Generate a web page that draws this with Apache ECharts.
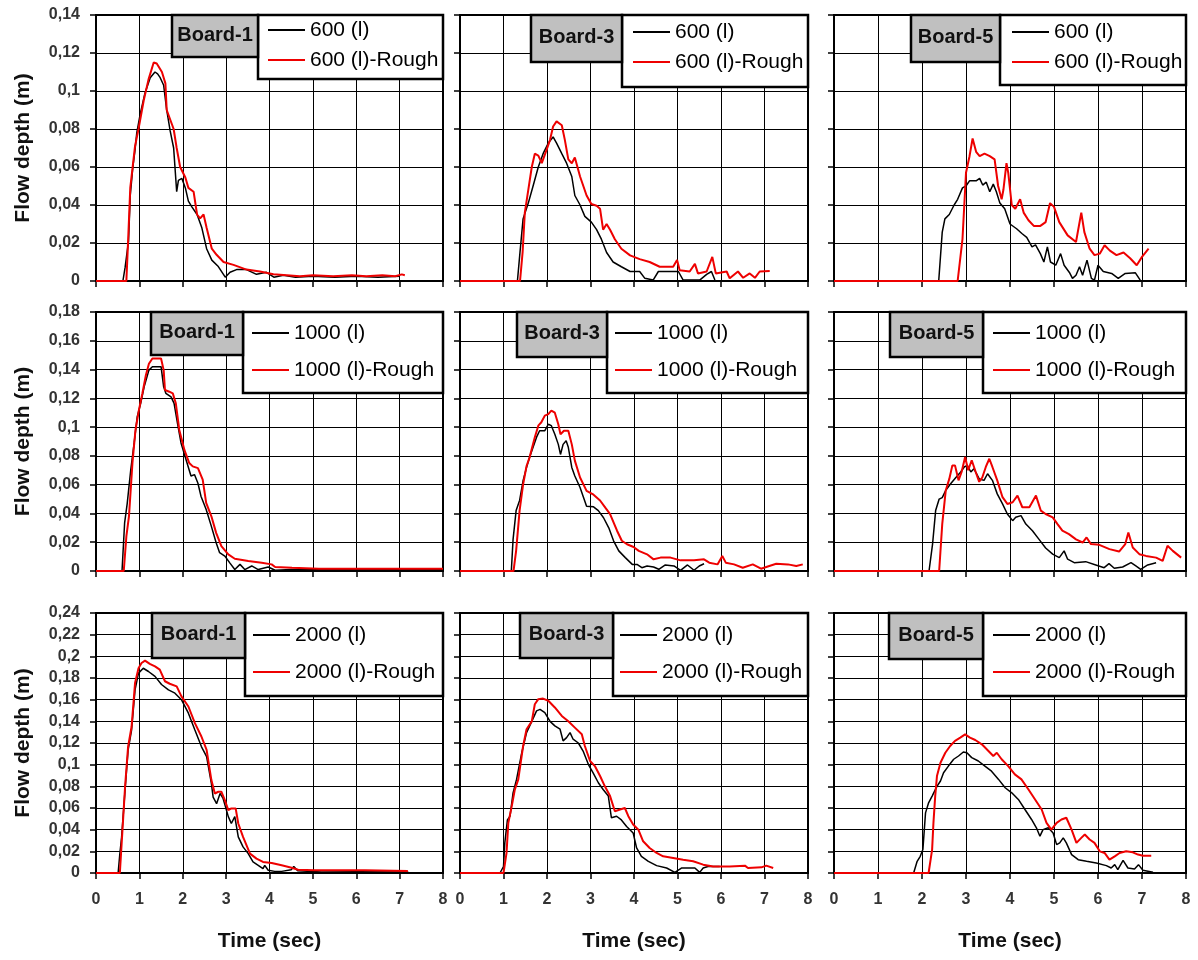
<!DOCTYPE html>
<html><head><meta charset="utf-8">
<script src="https://cdn.jsdelivr.net/npm/echarts@6/dist/echarts.min.js"></script>
<style>html,body{margin:0;padding:0;background:#fff}#c{width:1198px;height:960px}</style>
</head><body><div id="c"></div>
<script>
const FONT = '"Liberation Sans", Arial, sans-serif';
const xTicks = [0, 1, 2, 3, 4, 5, 6, 7, 8];
const yMaxRows = [0.14, 0.18, 0.24];
const volumes = ['600 (l)', '1000 (l)', '2000 (l)'];
const boards = ['Board-1', 'Board-3', 'Board-5'];
const xName = 'Time (sec)';
const yName = 'Flow depth (m)';

// ---- Row 1: 600 (l) ----
const b1_600 = [[0,0],[0.62,0],[0.67,0.007],[0.75,0.021],[0.79,0.045],[0.85,0.06],[0.9,0.069],[0.94,0.078],[1.02,0.088],[1.13,0.099],[1.25,0.107],[1.36,0.110],[1.42,0.109],[1.48,0.107],[1.56,0.103],[1.63,0.090],[1.71,0.079],[1.79,0.070],[1.86,0.047],[1.90,0.053],[1.98,0.054],[2.06,0.049],[2.13,0.042],[2.21,0.039],[2.33,0.035],[2.44,0.028],[2.55,0.017],[2.67,0.011],[2.82,0.0076],[2.98,0.002],[3.09,0.0046],[3.24,0.006],[3.47,0.006],[3.7,0.0035],[3.93,0.0046],[4.1,0.002],[4.32,0.003],[4.6,0.002],[5,0.0025],[5.5,0.002],[6,0.0025],[6.5,0.002],[7.0,0.0025]];
const b1_600R = [[0,0],[0.70,0],[0.74,0.021],[0.79,0.049],[0.9,0.071],[0.98,0.080],[1.10,0.095],[1.21,0.106],[1.33,0.115],[1.40,0.1145],[1.52,0.110],[1.60,0.104],[1.63,0.090],[1.71,0.085],[1.79,0.080],[1.86,0.070],[1.94,0.060],[2.06,0.0545],[2.13,0.049],[2.25,0.047],[2.33,0.035],[2.40,0.033],[2.48,0.035],[2.55,0.028],[2.67,0.017],[2.78,0.0138],[2.94,0.010],[3.17,0.0085],[3.47,0.006],[3.78,0.005],[4.09,0.0035],[4.40,0.003],[4.70,0.0025],[5.0,0.003],[5.47,0.0025],[5.9,0.003],[6.23,0.0025],[6.6,0.003],[6.9,0.0025],[7.05,0.0035],[7.12,0.003]];
const b3_600 = [[0,0],[1.32,0],[1.38,0.0153],[1.45,0.0327],[1.57,0.041],[1.68,0.050],[1.80,0.060],[1.91,0.067],[2.03,0.0726],[2.14,0.0758],[2.22,0.0726],[2.34,0.067],[2.45,0.062],[2.57,0.055],[2.64,0.045],[2.76,0.040],[2.87,0.034],[3.02,0.031],[3.14,0.027],[3.25,0.022],[3.37,0.015],[3.52,0.010],[3.71,0.0075],[3.91,0.005],[4.13,0.005],[4.25,0.0014],[4.44,0.0005],[4.56,0.005],[4.75,0.005],[5.02,0.005],[5.13,0.0005],[5.51,0.0005],[5.67,0.0035],[5.78,0.005],[5.86,0.0005]];
const b3_600R = [[0,0],[1.38,0],[1.44,0.0153],[1.49,0.036],[1.57,0.048],[1.65,0.060],[1.72,0.067],[1.80,0.066],[1.88,0.062],[1.99,0.069],[2.07,0.0743],[2.14,0.0813],[2.22,0.084],[2.34,0.082],[2.41,0.0743],[2.49,0.064],[2.57,0.062],[2.64,0.065],[2.76,0.055],[2.91,0.045],[3.02,0.0405],[3.14,0.0396],[3.22,0.038],[3.29,0.027],[3.37,0.030],[3.45,0.027],[3.56,0.022],[3.71,0.017],[3.91,0.0135],[4.13,0.0115],[4.36,0.010],[4.59,0.0075],[4.90,0.0075],[4.99,0.011],[5.05,0.0057],[5.28,0.005],[5.40,0.009],[5.47,0.004],[5.67,0.005],[5.80,0.0127],[5.88,0.004],[6.13,0.005],[6.20,0.0014],[6.39,0.005],[6.51,0.0017],[6.66,0.004],[6.78,0.0017],[6.89,0.005],[7.12,0.0052]];
const b5_600 = [[0,0],[2.38,0],[2.46,0.0257],[2.52,0.0327],[2.62,0.035],[2.73,0.040],[2.81,0.043],[2.92,0.049],[3.0,0.050],[3.08,0.0527],[3.23,0.0527],[3.31,0.054],[3.38,0.0505],[3.46,0.052],[3.54,0.047],[3.62,0.051],[3.69,0.047],[3.77,0.041],[3.88,0.038],[4.0,0.030],[4.15,0.0275],[4.27,0.025],[4.38,0.023],[4.5,0.018],[4.58,0.019],[4.69,0.0144],[4.77,0.010],[4.85,0.018],[4.92,0.010],[5.04,0.0083],[5.15,0.0144],[5.23,0.0083],[5.35,0.0045],[5.42,0.0014],[5.5,0.003],[5.58,0.0075],[5.65,0.003],[5.75,0.011],[5.85,0.0014],[5.92,0.0005],[6.0,0.0083],[6.12,0.005],[6.31,0.004],[6.46,0.0014],[6.62,0.004],[6.85,0.0043],[6.96,0.0005]];
const b5_600R = [[0,0],[2.81,0],[2.92,0.022],[3.0,0.057],[3.08,0.0657],[3.15,0.075],[3.23,0.068],[3.31,0.0657],[3.42,0.067],[3.54,0.0657],[3.65,0.064],[3.73,0.050],[3.81,0.043],[3.85,0.048],[3.92,0.062],[3.96,0.057],[4.04,0.040],[4.12,0.038],[4.23,0.043],[4.31,0.036],[4.42,0.032],[4.54,0.029],[4.69,0.029],[4.81,0.031],[4.91,0.041],[5.0,0.039],[5.12,0.031],[5.31,0.024],[5.5,0.0205],[5.62,0.036],[5.69,0.0257],[5.81,0.017],[5.92,0.0136],[6.04,0.0144],[6.15,0.0188],[6.27,0.016],[6.42,0.0136],[6.58,0.015],[6.73,0.012],[6.88,0.0083],[7.0,0.0127],[7.15,0.017]];

// ---- Row 2: 1000 (l) ----
const b1_1000 = [[0,0],[0.60,0],[0.66,0.0335],[0.72,0.047],[0.80,0.070],[0.88,0.089],[0.95,0.107],[1.03,0.1165],[1.11,0.128],[1.22,0.1396],[1.30,0.142],[1.50,0.142],[1.56,0.128],[1.61,0.1235],[1.73,0.121],[1.80,0.1165],[1.88,0.1025],[1.96,0.089],[2.08,0.077],[2.19,0.066],[2.27,0.067],[2.35,0.061],[2.42,0.052],[2.54,0.0427],[2.66,0.031],[2.77,0.0196],[2.85,0.0127],[2.97,0.0104],[3.08,0.0058],[3.20,0.001],[3.32,0.0046],[3.43,0.001],[3.59,0.0035],[3.74,0.001],[3.97,0.0028],[4.13,0.0005],[4.5,0.001],[5,0.001],[6,0.001],[7,0.001],[8,0.001]];
const b1_1000R = [[0,0],[0.64,0],[0.70,0.024],[0.76,0.038],[0.84,0.075],[0.91,0.098],[0.99,0.112],[1.07,0.1235],[1.15,0.136],[1.22,0.144],[1.30,0.1477],[1.50,0.1477],[1.56,0.1396],[1.59,0.1258],[1.69,0.1246],[1.77,0.1235],[1.84,0.1165],[1.92,0.098],[2.04,0.084],[2.15,0.075],[2.23,0.0727],[2.35,0.0715],[2.46,0.0635],[2.54,0.0473],[2.66,0.038],[2.77,0.0265],[2.89,0.0173],[3.05,0.0115],[3.20,0.0085],[3.51,0.0069],[3.82,0.0058],[4.05,0.0046],[4.13,0.0028],[4.52,0.0023],[5.14,0.0016],[6.30,0.0016],[8.0,0.0016]];
const b3_1000 = [[0,0],[1.18,0],[1.22,0.022],[1.29,0.042],[1.37,0.049],[1.45,0.0627],[1.53,0.072],[1.60,0.079],[1.68,0.086],[1.76,0.093],[1.83,0.0975],[1.95,0.0975],[2.03,0.102],[2.10,0.101],[2.18,0.095],[2.26,0.088],[2.31,0.081],[2.37,0.088],[2.44,0.0905],[2.49,0.086],[2.57,0.072],[2.64,0.066],[2.76,0.058],[2.84,0.051],[2.91,0.045],[3.07,0.0446],[3.18,0.042],[3.30,0.037],[3.42,0.030],[3.53,0.021],[3.65,0.014],[3.80,0.0093],[3.96,0.0046],[4.07,0.0046],[4.18,0.0023],[4.30,0.0035],[4.45,0.0028],[4.57,0.0012],[4.72,0.0042],[4.92,0.0035],[5.07,0.0005],[5.23,0.0042],[5.38,0.0005],[5.50,0.0035],[5.61,0.005]];
const b3_1000R = [[0,0],[1.23,0],[1.29,0.014],[1.37,0.042],[1.45,0.060],[1.53,0.073],[1.60,0.079],[1.72,0.093],[1.80,0.101],[1.87,0.1034],[1.95,0.108],[2.03,0.109],[2.10,0.1115],[2.18,0.110],[2.26,0.102],[2.31,0.095],[2.39,0.0975],[2.49,0.0975],[2.57,0.088],[2.64,0.0767],[2.76,0.065],[2.91,0.0557],[3.07,0.053],[3.22,0.049],[3.34,0.044],[3.45,0.0395],[3.61,0.028],[3.72,0.021],[3.84,0.0186],[3.99,0.0167],[4.11,0.014],[4.30,0.0116],[4.45,0.0081],[4.61,0.0093],[4.84,0.0093],[5.07,0.0074],[5.38,0.0074],[5.61,0.0081],[5.73,0.0058],[5.92,0.0046],[6.03,0.0104],[6.11,0.0058],[6.30,0.0046],[6.50,0.0023],[6.73,0.0046],[6.92,0.0016],[7.11,0.0035],[7.27,0.005],[7.54,0.0046],[7.73,0.0035],[7.88,0.0046]];
const b5_1000 = [[0,0],[2.16,0],[2.24,0.0187],[2.31,0.042],[2.39,0.050],[2.46,0.051],[2.54,0.056],[2.65,0.0606],[2.77,0.065],[2.88,0.0688],[2.96,0.0723],[3.03,0.0734],[3.11,0.0688],[3.18,0.0711],[3.30,0.064],[3.41,0.063],[3.49,0.0676],[3.60,0.063],[3.71,0.0536],[3.83,0.0466],[3.94,0.0396],[4.06,0.035],[4.13,0.0373],[4.25,0.0385],[4.36,0.0326],[4.51,0.028],[4.66,0.022],[4.81,0.016],[4.97,0.0117],[5.12,0.0093],[5.23,0.014],[5.31,0.0082],[5.46,0.0058],[5.72,0.0065],[5.95,0.0042],[6.14,0.0023],[6.25,0.0051],[6.37,0.0019],[6.56,0.0028],[6.75,0.0058],[6.86,0.0035],[6.97,0.0012],[7.13,0.0042],[7.32,0.0058]];
const b5_1000R = [[0,0],[2.39,0],[2.46,0.0326],[2.54,0.056],[2.62,0.064],[2.69,0.0734],[2.75,0.0734],[2.83,0.063],[2.90,0.0688],[2.98,0.0792],[3.05,0.070],[3.13,0.077],[3.22,0.0688],[3.30,0.062],[3.37,0.065],[3.45,0.0723],[3.53,0.078],[3.60,0.0723],[3.71,0.063],[3.83,0.0513],[3.94,0.0466],[4.06,0.0478],[4.17,0.0524],[4.28,0.0443],[4.44,0.0443],[4.59,0.0524],[4.70,0.042],[4.81,0.0396],[4.97,0.0373],[5.08,0.0326],[5.19,0.028],[5.34,0.0256],[5.50,0.022],[5.65,0.0198],[5.74,0.0233],[5.84,0.0187],[6.03,0.0182],[6.26,0.0152],[6.48,0.0135],[6.62,0.0187],[6.69,0.0268],[6.79,0.0163],[6.94,0.0117],[7.09,0.0105],[7.32,0.0093],[7.47,0.007],[7.58,0.0175],[7.70,0.014],[7.89,0.0093]];

// ---- Row 3: 2000 (l) ----
const b1_2000 = [[0,0],[0.51,0],[0.55,0.018],[0.59,0.033],[0.67,0.0765],[0.74,0.1135],[0.82,0.132],[0.90,0.169],[0.98,0.1845],[1.09,0.189],[1.21,0.186],[1.36,0.1815],[1.51,0.174],[1.67,0.169],[1.82,0.166],[1.97,0.160],[2.13,0.1475],[2.28,0.132],[2.43,0.1167],[2.55,0.1074],[2.66,0.0827],[2.70,0.070],[2.78,0.064],[2.86,0.0734],[2.93,0.0688],[3.05,0.052],[3.12,0.0457],[3.20,0.052],[3.28,0.0333],[3.39,0.0241],[3.51,0.0179],[3.62,0.0102],[3.74,0.0071],[3.85,0.004],[3.89,0.0071],[3.97,0.0025],[4.12,0.0015],[4.28,0.0015],[4.50,0.003],[4.56,0.006],[4.65,0.002],[5.2,0.001],[6.0,0.0012],[7.2,0.001]];
const b1_2000R = [[0,0],[0.55,0],[0.61,0.0395],[0.67,0.0796],[0.74,0.1166],[0.82,0.135],[0.90,0.1753],[0.98,0.189],[1.05,0.1938],[1.13,0.196],[1.24,0.193],[1.36,0.1907],[1.47,0.1877],[1.59,0.177],[1.70,0.1747],[1.86,0.1723],[1.97,0.163],[2.13,0.1537],[2.28,0.1383],[2.43,0.126],[2.55,0.1136],[2.66,0.0858],[2.74,0.0734],[2.82,0.075],[2.89,0.075],[2.97,0.0672],[3.05,0.058],[3.12,0.0596],[3.22,0.0596],[3.28,0.0457],[3.39,0.0333],[3.55,0.0179],[3.70,0.0133],[3.85,0.0102],[4.05,0.0093],[4.28,0.0071],[4.51,0.0049],[4.66,0.003],[5.04,0.0025],[6.2,0.0025],[7.19,0.0019]];
const b3_2000 = [[0,0],[0.92,0],[1.0,0.006],[1.03,0.0278],[1.09,0.049],[1.15,0.0525],[1.22,0.074],[1.30,0.0864],[1.42,0.111],[1.53,0.1296],[1.65,0.140],[1.76,0.1497],[1.84,0.151],[1.95,0.148],[2.07,0.140],[2.18,0.1358],[2.30,0.1327],[2.37,0.122],[2.45,0.125],[2.53,0.1296],[2.60,0.1235],[2.72,0.120],[2.83,0.1126],[2.95,0.1003],[3.06,0.0925],[3.18,0.0833],[3.29,0.0771],[3.41,0.071],[3.48,0.051],[3.60,0.0524],[3.71,0.049],[3.83,0.043],[3.98,0.037],[4.06,0.0231],[4.17,0.0154],[4.33,0.0108],[4.52,0.0068],[4.75,0.0046],[4.94,0.0006],[5.09,0.0046],[5.40,0.0046],[5.51,0.0006],[5.59,0.0046],[5.70,0.006],[5.97,0.006]];
const b3_2000R = [[0,0],[1.0,0],[1.07,0.0185],[1.11,0.046],[1.19,0.0617],[1.26,0.077],[1.34,0.0864],[1.45,0.117],[1.53,0.1327],[1.65,0.140],[1.72,0.1558],[1.80,0.1605],[1.91,0.161],[2.03,0.159],[2.18,0.1528],[2.34,0.145],[2.49,0.140],[2.64,0.1342],[2.80,0.128],[2.87,0.1172],[2.99,0.1034],[3.10,0.0987],[3.22,0.0895],[3.33,0.080],[3.45,0.071],[3.56,0.057],[3.68,0.0586],[3.79,0.060],[3.87,0.0524],[3.98,0.0447],[4.10,0.040],[4.21,0.0293],[4.36,0.0231],[4.52,0.0185],[4.67,0.0154],[4.90,0.0139],[5.13,0.0123],[5.36,0.0108],[5.59,0.0077],[5.82,0.006],[6.20,0.006],[6.55,0.0068],[6.62,0.0046],[6.93,0.0052],[7.04,0.0068],[7.20,0.0046]];
const b5_2000 = [[0,0],[1.81,0],[1.89,0.0108],[1.96,0.0154],[2.02,0.0216],[2.08,0.0555],[2.15,0.0648],[2.23,0.071],[2.34,0.080],[2.42,0.0849],[2.49,0.0926],[2.60,0.0987],[2.72,0.105],[2.83,0.108],[2.94,0.1117],[3.02,0.111],[3.13,0.1065],[3.28,0.1034],[3.43,0.0987],[3.58,0.094],[3.74,0.0864],[3.89,0.0787],[4.04,0.074],[4.19,0.0679],[4.34,0.0586],[4.49,0.0494],[4.60,0.0417],[4.68,0.034],[4.75,0.040],[4.87,0.0417],[4.98,0.037],[5.06,0.0262],[5.13,0.0278],[5.21,0.0324],[5.28,0.0278],[5.40,0.017],[5.55,0.0123],[5.74,0.0108],[5.96,0.0093],[6.19,0.0068],[6.30,0.0046],[6.38,0.0077],[6.45,0.0031],[6.57,0.0117],[6.68,0.0046],[6.83,0.0037],[6.92,0.0077],[7.02,0.0025],[7.25,0.0006]];
const b5_2000R = [[0,0],[2.15,0],[2.23,0.0216],[2.26,0.0463],[2.30,0.071],[2.34,0.0895],[2.42,0.1018],[2.53,0.111],[2.64,0.1172],[2.75,0.122],[2.87,0.125],[2.98,0.128],[3.09,0.125],[3.21,0.1228],[3.36,0.1188],[3.51,0.1126],[3.62,0.108],[3.70,0.111],[3.81,0.105],[3.96,0.0987],[4.11,0.091],[4.26,0.0864],[4.42,0.0771],[4.57,0.0679],[4.72,0.0586],[4.83,0.0463],[4.94,0.040],[5.06,0.0463],[5.17,0.0494],[5.28,0.051],[5.40,0.040],[5.51,0.0278],[5.62,0.0324],[5.70,0.0355],[5.81,0.0309],[5.92,0.0278],[6.04,0.020],[6.15,0.0185],[6.26,0.0123],[6.38,0.0154],[6.49,0.0185],[6.64,0.020],[6.79,0.0191],[6.91,0.017],[7.02,0.016],[7.21,0.016]];

const panelData = [
  [[b1_600, b1_600R], [b3_600, b3_600R], [b5_600, b5_600R]],
  [[b1_1000, b1_1000R], [b3_1000, b3_1000R], [b5_1000, b5_1000R]],
  [[b1_2000, b1_2000R], [b3_2000, b3_2000R], [b5_2000, b5_2000R]]
];

// ---- layout (pixels) ----
const colL = [96, 460, 834], colR = [443, 808, 1186];
const rowT = [15, 312, 613], rowB = [281, 571, 873];
const boardBox = [
  [[172,15,86,42],[531,15,91,47],[911,15,89,47]],
  [[151,312,92,43],[517,312,90,45],[890,312,93,45]],
  [[152,613,93,45],[520,613,93,45],[889,613,94,46]]
];
const legendBox = [
  [[258,15,185,64],[622,15,186,72],[1000,15,186,70]],
  [[243,312,200,81],[607,312,201,81],[983,312,203,81]],
  [[245,613,198,83],[613,613,195,83],[983,613,203,83]]
];
const legendPos = [
  [[268,19,8],[633,21,8],[1012,21,8]],
  [[252,322,15],[615,322,15],[993,322,15]],
  [[253,624,15],[620,624,15],[993,624,15]]
];

const fmtY = v => String(Math.round(v * 100) / 100).replace('.', ',');

const grids = [], xAxes = [], yAxes = [], series = [], legends = [], graphics = [];
for (let r = 0; r < 3; r++) {
  for (let c = 0; c < 3; c++) {
    const gi = r * 3 + c;
    grids.push({
      left: colL[c], top: rowT[r], width: colR[c] - colL[c], height: rowB[r] - rowT[r],
      show: true, borderColor: '#000', borderWidth: 2, backgroundColor: 'transparent'
    });
    xAxes.push({
      gridIndex: gi, type: 'value', min: xTicks[0], max: xTicks[xTicks.length - 1], interval: 1,
      axisLine: { show: true, onZero: false, lineStyle: { color: '#000', width: 2 } },
      axisTick: { show: true, length: 6, lineStyle: { color: '#000', width: 1.5 } },
      axisLabel: { show: r === 2, margin: 19, fontSize: 16, fontWeight: 'bold', color: '#333', fontFamily: FONT },
      splitLine: { show: true, lineStyle: { color: '#000', width: 1 } },
      name: r === 2 ? xName : '', nameLocation: 'middle', nameGap: 58,
      nameTextStyle: { fontSize: 21, fontWeight: 'bold', color: '#111', fontFamily: FONT }
    });
    yAxes.push({
      gridIndex: gi, type: 'value', min: 0, max: yMaxRows[r], interval: 0.02,
      axisLine: { show: true, onZero: false, lineStyle: { color: '#000', width: 2 } },
      axisTick: { show: true, length: 6, lineStyle: { color: '#000', width: 1.5 } },
      axisLabel: { show: c === 0, margin: 16, fontSize: 16, fontWeight: 'bold', color: '#333', fontFamily: FONT, formatter: fmtY },
      splitLine: { show: true, lineStyle: { color: '#000', width: 1 } },
      name: c === 0 ? yName : '', nameLocation: 'middle', nameGap: 62, nameRotate: 90,
      nameTextStyle: { fontSize: 21, fontWeight: 'bold', color: '#111', fontFamily: FONT }
    });
    const nm = volumes[r], nmR = volumes[r] + '-Rough';
    const [blk, red] = panelData[r][c];
    series.push({
      name: nm, type: 'line', xAxisIndex: gi, yAxisIndex: gi, data: blk,
      showSymbol: false, symbol: 'none', z: 3,
      lineStyle: { color: '#000', width: 1.5 }, itemStyle: { color: '#000' }
    });
    series.push({
      name: nmR, type: 'line', xAxisIndex: gi, yAxisIndex: gi, data: red,
      showSymbol: false, symbol: 'none', z: 4,
      lineStyle: { color: '#ee0000', width: 2 }, itemStyle: { color: '#ee0000' }
    });
    const lp = legendPos[r][c];
    legends.push({
      data: [nm, nmR], left: lp[0], top: lp[1], orient: 'vertical', padding: 0,
      itemWidth: 37, itemHeight: 2, icon: 'rect', itemGap: lp[2], selectedMode: false, z: 30,
      textStyle: { fontSize: 21, color: '#000', fontFamily: FONT, lineHeight: 22 }
    });
    const bb = boardBox[r][c], lb = legendBox[r][c];
    graphics.push({
      type: 'rect', z: 20, shape: { x: lb[0], y: lb[1], width: lb[2], height: lb[3] },
      style: { fill: '#fff', stroke: '#000', lineWidth: 2.5 }
    });
    graphics.push({
      type: 'rect', z: 20, shape: { x: bb[0], y: bb[1], width: bb[2], height: bb[3] },
      style: { fill: '#c0c0c0', stroke: '#000', lineWidth: 2.5 }
    });
    graphics.push({
      type: 'text', z: 21, x: bb[0] + bb[2] / 2, y: bb[1] + bb[3] / 2 - 1,
      style: { text: boards[c], fill: '#111', font: 'bold 20px ' + FONT, textAlign: 'center', textVerticalAlign: 'middle' }
    });
  }
}

const chart = echarts.init(document.getElementById('c'), null, { renderer: 'canvas' });
chart.setOption({
  animation: false,
  backgroundColor: '#fff',
  grid: grids, xAxis: xAxes, yAxis: yAxes, series: series, legend: legends,
  graphic: { elements: graphics }
});
</script></body></html>
